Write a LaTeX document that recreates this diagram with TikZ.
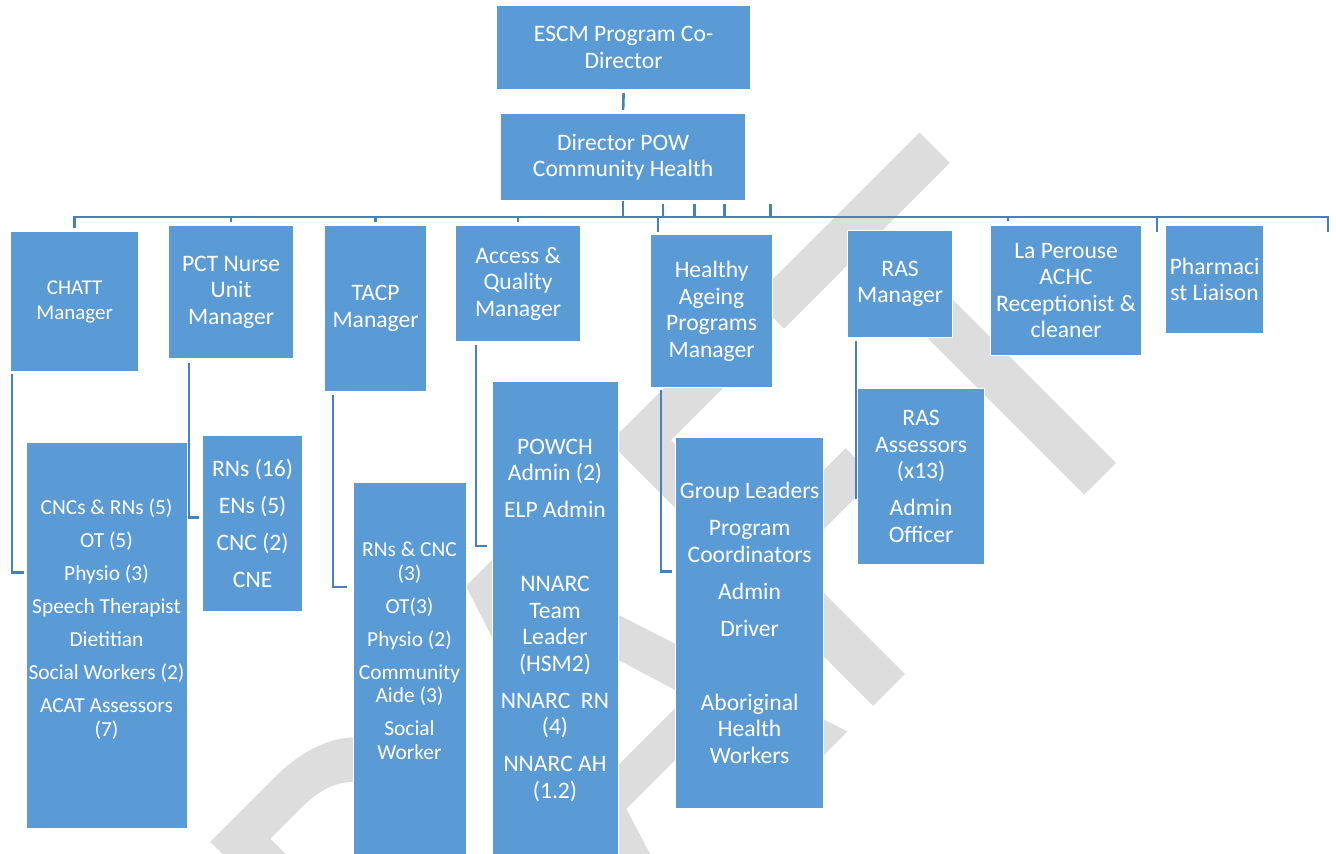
\documentclass[tikz,border=0pt]{standalone}
\usepackage{fontspec}
\usepackage{graphicx}
\setmainfont{Carlito}
\usetikzlibrary{calc,backgrounds}
\definecolor{boxblue}{RGB}{91,155,213}
\definecolor{linkblue}{RGB}{72,127,189}
\definecolor{wmgray}{RGB}{221,221,221}
\newcommand\bigtext{\fontsize{23.6}{26.5}\selectfont}
\newcommand\smalltext{\fontsize{21.4}{23.5}\selectfont}
\tikzset{
  orgbox/.style={fill=boxblue, draw=white, line width=1.2pt, inner sep=0pt,
    anchor=north west, text=white, align=center, font=\bigtext},
  stafftext/.style={text=white, align=center, inner sep=0pt, font=\smalltext},
  link/.style={draw=linkblue, line width=2.6pt},
  elbow/.style={draw=linkblue, line width=2.4pt}
}
\begin{document}
\begin{tikzpicture}[x=1pt,y=-1pt]
\useasboundingbox (0,0) rectangle (1336,854);
\clip (0,0) rectangle (1336,854);

% top of the chart
\node[orgbox, minimum width=254pt, minimum height=84pt] (escm) at (496,5) {ESCM Program Co-\\Director};
\node[orgbox, minimum width=245pt, minimum height=87pt] (dir) at (500,113) {Director POW\\Community Health};

% managers
\node[orgbox, minimum width=128pt, minimum height=140pt, font=\fontsize{21}{25}\selectfont] (chatt) at (10,231) {CHATT\\Manager};
\node[orgbox, minimum width=125pt, minimum height=133pt] (pct) at (168,225) {PCT Nurse\\Unit\\Manager};
\node[orgbox, minimum width=102pt, minimum height=166pt] (tacp) at (324,225) {TACP\\Manager};
\node[orgbox, minimum width=125pt, minimum height=116pt] (access) at (455,225) {Access \&\\Quality\\Manager};
\node[orgbox, minimum width=122pt, minimum height=153pt] (healthy) at (650,234) {Healthy\\Ageing\\Programs\\Manager};
\node[orgbox, minimum width=105pt, minimum height=107pt] (ras) at (847,230) {RAS\\Manager};
\node[orgbox, minimum width=151pt, minimum height=130pt] (lap) at (990,225) {La Perouse\\ACHC\\Receptionist \&\\cleaner};
\node[orgbox, minimum width=98pt, minimum height=108pt] (pharm) at (1165,225) {Pharmaci\\st Liaison};

% staff under each manager
\node[orgbox, minimum width=161pt, minimum height=386pt] (chattStaff) at (26,442) {};
\node[stafftext] (chattStaffText) at (106.5,619) {CNCs \& RNs (5)\\[9.5pt]OT (5)\\[9.5pt]Physio (3)\\[9.5pt]Speech Therapist\\[9.5pt]Dietitian\\[9.5pt]Social Workers (2)\\[9.5pt]ACAT Assessors\\(7)};
\node[orgbox, minimum width=100pt, minimum height=176pt] (pctStaff) at (202,435) {RNs (16)\\[10.5pt]ENs (5)\\[10.5pt]CNC (2)\\[10.5pt]CNE};
\node[orgbox, minimum width=113pt, minimum height=390pt] (tacpStaff) at (353,482) {};
\node[stafftext] (tacpStaffText) at (409.5,651) {RNs \& CNC\\(3)\\[9.5pt]OT(3)\\[9.5pt]Physio (2)\\[9.5pt]Community\\Aide (3)\\[9.5pt]Social\\Worker};
\node[orgbox, minimum width=126pt, minimum height=490pt] (accessStaff) at (492,381) {};
\node[stafftext, font=\bigtext] (accessStaffText) at (555,620) {POWCH\\Admin (2)\\[10.5pt]ELP Admin\\[10.5pt]~\\[10.5pt]NNARC\\Team\\Leader\\(HSM2)\\[10.5pt]NNARC\ \ RN\\(4)\\[10.5pt]NNARC AH\\(1.2)};
\node[orgbox, minimum width=148pt, minimum height=371pt] (healthyStaff) at (675,437) {Group Leaders\\[10.5pt]Program\\Coordinators\\[10.5pt]Admin\\[10.5pt]Driver\\[10.5pt]~\\[10.5pt]Aboriginal\\Health\\Workers};
\node[orgbox, minimum width=127pt, minimum height=176pt] (rasStaff) at (857,388) {RAS\\Assessors\\(x13)\\[10.5pt]Admin\\Officer};

\begin{pgfonlayer}{background}
  % diagonal watermark, its baseline running up to the right
  \node[rotate=45, anchor=base east, inner sep=0pt, text=wmgray] (watermark) at (1188,391.8)
    {\fontsize{581}{581}\selectfont\scalebox{0.87}[1]{DRAFT}};

  % bus under the director
  \coordinate (busW) at (74,217);
  \coordinate (busE) at (1328,217);
  \draw[link] ([yshift=-3pt]escm.south) -- ([yshift=3pt]dir.north);
  \draw[link] ([yshift=3pt]chatt.north) |- (busE) -- ++(0,15);
  \draw[link] (dir.south) -- (dir.south |- busW);
  \foreach \dx in {40,71.5,101.5,147.5}
    \draw[link] ([xshift=\dx pt,yshift=-3pt]dir.south) -- ++(0,14);
  \draw[link] (pct.north |- busW) -- ++(0,5);
  \draw[link] (tacp.north |- busW) -- ++(0,5);
  \draw[link] (access.north |- busW) -- ++(0,5);
  \draw[link] ([xshift=8pt]healthy.north west |- busW) -- ++(0,15);
  \draw[link] ([xshift=18pt]lap.north west |- busW) -- ++(0,4);
  \draw[link] ([xshift=-8pt]pharm.north west |- busW) -- ++(0,15);

  % elbows from managers to their staff
  \draw[elbow] ($(chatt.south west)+(2,2)$) |- ($(chattStaff.west)+(-2,-63)$);
  \draw[elbow] ($(pct.south west)+(21,4)$) |- ($(pctStaff.west)+(-3,-6)$);
  \draw[elbow] ($(tacp.south west)+(9,3)$) |- ($(tacpStaff.north west)+(-6,105)$);
  \draw[elbow] ($(access.south west)+(21,3)$) |- ($(accessStaff.north west)+(-5,165)$);
  \draw[elbow] ($(healthy.south west)+(11,2)$) |- ($(healthyStaff.west)+(-3,-51.5)$);
  \draw[elbow] ($(ras.south west)+(9,3)$) |- ($(rasStaff.west)+(0,21)$);
\end{pgfonlayer}
\end{tikzpicture}
\end{document}
